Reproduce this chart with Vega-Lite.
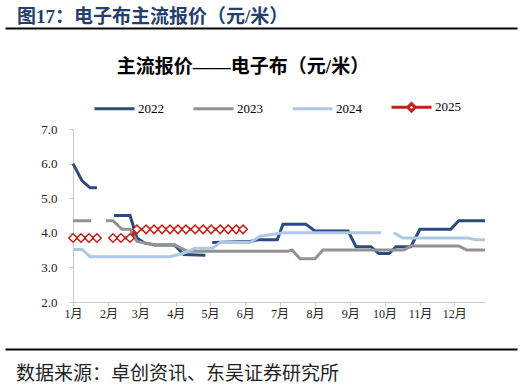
{
  "$schema": "https://vega.github.io/schema/vega-lite/v6.json",
  "background": "white",
  "padding": {"left": 5, "top": 7, "right": 5, "bottom": 0},
  "spacing": 26,
  "resolve": {"legend": {"color": "independent"}},
  "config": {
    "view": {"stroke": null},
    "font": "Liberation Serif, Noto Sans CJK SC"
  },
  "vconcat": [
    {
      "title": {"text": "图17：电子布主流报价（元/米）", "anchor": "start", "frame": "group", "orient": "top", "fontSize": 19, "fontWeight": "bold", "color": "#243F6B", "font": "Liberation Serif, Noto Sans CJK SC", "dx": -56, "offset": -2},
      "width": 444,
      "height": 1,
      "data": {"values": [{"rule": 0.5}]},
      "mark": {"type": "point", "opacity": 0},
      "encoding": {
        "x": {"field": "rule", "type": "quantitative", "scale": {"domain": [0, 1], "range": [-68, 444]},
          "axis": {"title": null, "labels": false, "ticks": false, "grid": false, "domain": true, "domainColor": "black", "domainWidth": 2, "orient": "bottom"}}
      }
    },
    {
      "width": 412,
      "height": 173,
      "title": {"text": "主流报价——电子布（元/米）", "anchor": "middle", "fontSize": 19, "fontWeight": "bold", "color": "black", "font": "Liberation Serif, Noto Sans CJK SC", "dx": -36, "offset": 9},
      "data": {
        "format": {"parse": {"date": "date:'%Y-%m-%d'"}},
        "values": [
          {"date": "2021-01-01", "year": "2022", "price": 6.0},
          {"date": "2021-01-09", "year": "2022", "price": 5.5},
          {"date": "2021-01-16", "year": "2022", "price": 5.3},
          {"date": "2021-01-22", "year": "2022", "price": 5.3},
          {"date": "2021-01-29", "year": "2022", "price": null},
          {"date": "2021-02-06", "year": "2022", "price": 4.5},
          {"date": "2021-02-20", "year": "2022", "price": 4.5},
          {"date": "2021-02-26", "year": "2022", "price": 3.85},
          {"date": "2021-03-05", "year": "2022", "price": 3.7},
          {"date": "2021-03-14", "year": "2022", "price": 3.65},
          {"date": "2021-03-31", "year": "2022", "price": 3.65},
          {"date": "2021-04-08", "year": "2022", "price": 3.37},
          {"date": "2021-04-27", "year": "2022", "price": 3.35},
          {"date": "2021-04-30", "year": "2022", "price": null},
          {"date": "2021-05-03", "year": "2022", "price": 3.72},
          {"date": "2021-06-05", "year": "2022", "price": 3.75},
          {"date": "2021-06-12", "year": "2022", "price": 3.8},
          {"date": "2021-06-29", "year": "2022", "price": 3.8},
          {"date": "2021-07-04", "year": "2022", "price": 4.25},
          {"date": "2021-07-24", "year": "2022", "price": 4.25},
          {"date": "2021-08-01", "year": "2022", "price": 4.05},
          {"date": "2021-08-30", "year": "2022", "price": 4.05},
          {"date": "2021-09-06", "year": "2022", "price": 3.6},
          {"date": "2021-09-19", "year": "2022", "price": 3.6},
          {"date": "2021-09-26", "year": "2022", "price": 3.4},
          {"date": "2021-10-05", "year": "2022", "price": 3.4},
          {"date": "2021-10-11", "year": "2022", "price": 3.6},
          {"date": "2021-10-24", "year": "2022", "price": 3.6},
          {"date": "2021-11-01", "year": "2022", "price": 4.1},
          {"date": "2021-11-28", "year": "2022", "price": 4.1},
          {"date": "2021-12-05", "year": "2022", "price": 4.35},
          {"date": "2021-12-28", "year": "2022", "price": 4.35},
          {"date": "2021-01-01", "year": "2023", "price": 4.35},
          {"date": "2021-01-17", "year": "2023", "price": 4.35},
          {"date": "2021-01-24", "year": "2023", "price": null},
          {"date": "2021-01-30", "year": "2023", "price": 4.35},
          {"date": "2021-02-05", "year": "2023", "price": 4.35},
          {"date": "2021-02-13", "year": "2023", "price": 4.1},
          {"date": "2021-02-20", "year": "2023", "price": 4.1},
          {"date": "2021-02-26", "year": "2023", "price": 3.75},
          {"date": "2021-03-07", "year": "2023", "price": 3.7},
          {"date": "2021-03-14", "year": "2023", "price": 3.65},
          {"date": "2021-03-31", "year": "2023", "price": 3.65},
          {"date": "2021-04-11", "year": "2023", "price": 3.47},
          {"date": "2021-07-08", "year": "2023", "price": 3.47},
          {"date": "2021-07-12", "year": "2023", "price": 3.5},
          {"date": "2021-07-19", "year": "2023", "price": 3.25},
          {"date": "2021-08-01", "year": "2023", "price": 3.25},
          {"date": "2021-08-08", "year": "2023", "price": 3.5},
          {"date": "2021-10-18", "year": "2023", "price": 3.5},
          {"date": "2021-10-24", "year": "2023", "price": 3.62},
          {"date": "2021-12-05", "year": "2023", "price": 3.62},
          {"date": "2021-12-12", "year": "2023", "price": 3.5},
          {"date": "2021-12-28", "year": "2023", "price": 3.5},
          {"date": "2021-01-01", "year": "2024", "price": 3.52},
          {"date": "2021-01-09", "year": "2024", "price": 3.52},
          {"date": "2021-01-16", "year": "2024", "price": 3.31},
          {"date": "2021-03-27", "year": "2024", "price": 3.31},
          {"date": "2021-04-07", "year": "2024", "price": 3.4},
          {"date": "2021-04-18", "year": "2024", "price": 3.55},
          {"date": "2021-05-03", "year": "2024", "price": 3.55},
          {"date": "2021-05-10", "year": "2024", "price": 3.72},
          {"date": "2021-06-05", "year": "2024", "price": 3.72},
          {"date": "2021-06-14", "year": "2024", "price": 3.9},
          {"date": "2021-07-04", "year": "2024", "price": 4.0},
          {"date": "2021-09-28", "year": "2024", "price": 4.0},
          {"date": "2021-10-03", "year": "2024", "price": null},
          {"date": "2021-10-09", "year": "2024", "price": 4.0},
          {"date": "2021-10-17", "year": "2024", "price": 3.85},
          {"date": "2021-12-13", "year": "2024", "price": 3.85},
          {"date": "2021-12-20", "year": "2024", "price": 3.8},
          {"date": "2021-12-28", "year": "2024", "price": 3.8},
          {"date": "2021-01-01", "year": "2025", "price": 3.85},
          {"date": "2021-01-08", "year": "2025", "price": 3.85},
          {"date": "2021-01-15", "year": "2025", "price": 3.85},
          {"date": "2021-01-22", "year": "2025", "price": 3.85},
          {"date": "2021-01-29", "year": "2025", "price": null},
          {"date": "2021-02-05", "year": "2025", "price": 3.85},
          {"date": "2021-02-12", "year": "2025", "price": 3.85},
          {"date": "2021-02-20", "year": "2025", "price": 3.85},
          {"date": "2021-02-26", "year": "2025", "price": 4.1},
          {"date": "2021-03-06", "year": "2025", "price": 4.1},
          {"date": "2021-03-13", "year": "2025", "price": 4.1},
          {"date": "2021-03-20", "year": "2025", "price": 4.1},
          {"date": "2021-03-27", "year": "2025", "price": 4.1},
          {"date": "2021-04-03", "year": "2025", "price": 4.1},
          {"date": "2021-04-10", "year": "2025", "price": 4.1},
          {"date": "2021-04-18", "year": "2025", "price": 4.1},
          {"date": "2021-04-25", "year": "2025", "price": 4.1},
          {"date": "2021-05-02", "year": "2025", "price": 4.1},
          {"date": "2021-05-10", "year": "2025", "price": 4.1},
          {"date": "2021-05-17", "year": "2025", "price": 4.1},
          {"date": "2021-05-24", "year": "2025", "price": 4.1},
          {"date": "2021-05-30", "year": "2025", "price": 4.1}
        ]
      },
      "encoding": {
        "x": {
          "field": "date", "type": "temporal",
          "scale": {"domain": [{"year": 2021, "month": 1, "date": 1}, {"year": 2021, "month": 12, "date": 28}]},
          "axis": {
            "title": null, "format": "%-m月", "tickCount": {"interval": "month", "step": 1},
            "grid": false, "domainColor": "#C8C8C8", "tickColor": "#C8C8C8", "tickSize": 4,
            "labelFont": "Liberation Serif, Noto Sans CJK SC", "labelFontSize": 12, "labelColor": "#222",
            "labelPadding": 2, "labelAlign": "center", "labelFlush": false, "labelOverlap": false
          }
        },
        "y": {
          "field": "price", "type": "quantitative",
          "scale": {"domain": [2, 7], "nice": false, "zero": false},
          "axis": {
            "title": null, "values": [2, 3, 4, 5, 6, 7], "format": ".1f", "grid": false,
            "domainColor": "#C8C8C8", "tickColor": "#C8C8C8", "tickSize": 4, "labelPadding": 12,
            "labelFont": "Liberation Serif", "labelFontSize": 13, "labelColor": "#222", "minExtent": 68, "maxExtent": 68
          }
        }
      },
      "layer": [
        {
          "mark": {"type": "line", "strokeWidth": 3, "invalid": "break-paths-filter-domains", "strokeCap": "butt"},
          "encoding": {
            "color": {
              "field": "year", "type": "nominal",
              "scale": {"domain": ["2022", "2023", "2024", "2025"], "range": ["#2A4B7F", "#939393", "#ADC8E4", "#C0211A"]},
              "legend": {
                "orient": "none", "legendX": 20, "legendY": -43.5, "direction": "horizontal", "columns": 4,
                "columnPadding": 23, "title": null, "symbolType": "stroke", "symbolSize": 1600, "symbolStrokeWidth": 3,
                "labelFont": "Liberation Serif", "labelFontSize": 13, "labelColor": "black", "labelOffset": 2,
                "encode": {
                  "symbols": {
                    "update": {
                      "shape": {"signal": "datum.label === '2025' ? 'M-1,0H-0.19M0.19,0H1M-0.19,0L0,-0.19L0.19,0L0,0.19Z' : 'stroke'"},
                      "fill": {"value": "white"}
                    }
                  }
                }
              }
            }
          }
        },
        {
          "transform": [{"filter": "datum.year === '2025' && datum.price != null"}],
          "mark": {"type": "point", "shape": "diamond", "filled": true, "fill": "white", "stroke": "#C0211A", "strokeWidth": 1.5, "size": 72, "opacity": 1}
        }
      ]
    },
    {
      "title": {"text": "数据来源：卓创资讯、东吴证券研究所", "anchor": "start", "frame": "group", "orient": "bottom", "fontSize": 19, "fontWeight": "normal", "color": "#222", "font": "Liberation Serif, Noto Sans CJK SC", "dx": -57, "offset": 14},
      "width": 444,
      "height": 1,
      "data": {"values": [{"rule": 0.5}]},
      "mark": {"type": "point", "opacity": 0},
      "encoding": {
        "x": {"field": "rule", "type": "quantitative", "scale": {"domain": [0, 1], "range": [-68, 444]},
          "axis": {"title": null, "labels": false, "ticks": false, "grid": false, "domain": true, "domainColor": "black", "domainWidth": 2, "orient": "bottom"}}
      }
    }
  ]
}
